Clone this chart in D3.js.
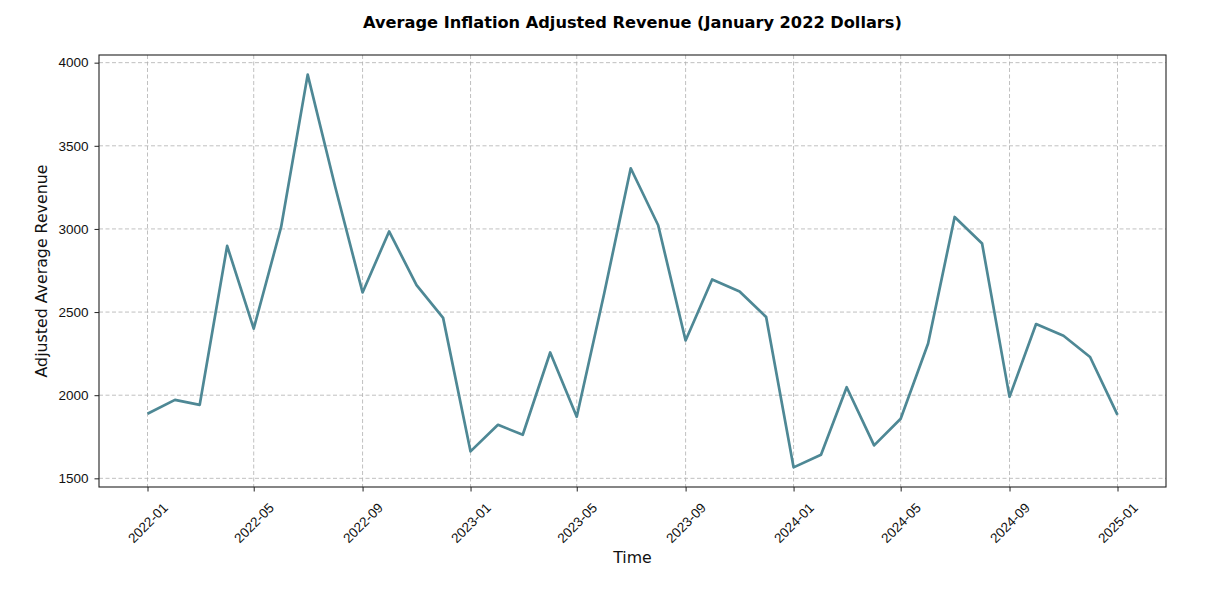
<!DOCTYPE html>
<html>
<head>
<meta charset="utf-8">
<script src="https://cdn.jsdelivr.net/npm/d3@7"></script>
<style>
  body { margin: 0; background: #fff; }
  svg { font-family: "DejaVu Sans", sans-serif; }
</style>
</head>
<body>
<svg width="1206" height="596"></svg>
<script>
var months = ["2022-01","2022-02","2022-03","2022-04","2022-05","2022-06","2022-07","2022-08","2022-09","2022-10","2022-11","2022-12",
  "2023-01","2023-02","2023-03","2023-04","2023-05","2023-06","2023-07","2023-08","2023-09","2023-10","2023-11","2023-12",
  "2024-01","2024-02","2024-03","2024-04","2024-05","2024-06","2024-07","2024-08","2024-09","2024-10","2024-11","2024-12",
  "2025-01"];
var revenue = [1888, 1972, 1942, 2898, 2400, 3012, 3928, 3255, 2618, 2985, 2662, 2465,
  1662, 1822, 1762, 2257, 1870, 2612, 3365, 3022, 2329, 2696, 2624, 2470,
  1566, 1642, 2048, 1698, 1858, 2311, 3072, 2912, 1990, 2428, 2358, 2230,
  1882];
var yTicks = [1500, 2000, 2500, 3000, 3500, 4000];
var xTickLabels = ["2022-01","2022-05","2022-09","2023-01","2023-05","2023-09","2024-01","2024-05","2024-09","2025-01"];

var svg = d3.select("svg"),
    margin = {top: 55, right: 40, bottom: 109, left: 99},
    width = +svg.attr("width") - margin.left - margin.right,
    height = +svg.attr("height") - margin.top - margin.bottom,
    g = svg.append("g").attr("transform", "translate(" + margin.left + "," + margin.top + ")");

var parse = d3.timeParse("%Y-%m");
var data = months.map(function(m, i) { return {date: parse(m), value: revenue[i]}; });

// matplotlib-style 5% padding
var tExt = d3.extent(data, function(d) { return +d.date; });
var tPad = (tExt[1] - tExt[0]) * 0.05;
var x = d3.scaleTime()
    .domain([new Date(tExt[0] - tPad), new Date(tExt[1] + tPad)])
    .range([0, width]);

var vExt = d3.extent(revenue);
var vPad = (vExt[1] - vExt[0]) * 0.05;
var y = d3.scaleLinear()
    .domain([vExt[0] - vPad, vExt[1] + vPad])
    .range([height, 0]);

var xTicks = xTickLabels.map(parse);

// grid
g.append("g").selectAll("line")
  .data(xTicks)
  .enter().append("line")
    .attr("x1", function(d) { return x(d); })
    .attr("x2", function(d) { return x(d); })
    .attr("y1", 0).attr("y2", height)
    .attr("stroke", "#b0b0b0").attr("stroke-opacity", 0.8)
    .attr("stroke-width", 1).attr("stroke-dasharray", "4,2.5");

g.append("g").selectAll("line")
  .data(yTicks)
  .enter().append("line")
    .attr("y1", function(d) { return y(d); })
    .attr("y2", function(d) { return y(d); })
    .attr("x1", 0).attr("x2", width)
    .attr("stroke", "#b0b0b0").attr("stroke-opacity", 0.8)
    .attr("stroke-width", 1).attr("stroke-dasharray", "4,2.5");

// line
var line = d3.line()
    .x(function(d) { return x(d.date); })
    .y(function(d) { return y(d.value); });

g.append("path")
    .datum(data)
    .attr("fill", "none")
    .attr("stroke", "#4e8895")
    .attr("stroke-width", 2.7)
    .attr("stroke-linejoin", "round")
    .attr("d", line);

// frame
g.append("rect")
    .attr("width", width).attr("height", height)
    .attr("fill", "none").attr("stroke", "#222").attr("stroke-width", 1.1);

// x axis
var xAxis = g.append("g")
    .attr("transform", "translate(0," + height + ")")
    .call(d3.axisBottom(x).tickValues(xTicks).tickFormat(d3.timeFormat("%Y-%m")).tickSize(4.5).tickPadding(0));
xAxis.select(".domain").remove();
xAxis.selectAll("line").attr("stroke", "#222");
xAxis.selectAll("text")
    .attr("font-size", 13.5).attr("fill", "#111")
    .attr("y", 0).attr("dy", null)
    .attr("text-anchor", "middle")
    .attr("dominant-baseline", "central")
    .attr("transform", "translate(0,36) rotate(-45)");

// y axis
var yAxis = g.append("g")
    .call(d3.axisLeft(y).tickValues(yTicks).tickFormat(d3.format("d")).tickSize(4.5).tickPadding(6));
yAxis.select(".domain").remove();
yAxis.selectAll("line").attr("stroke", "#222");
yAxis.selectAll("text").attr("font-size", 13.5).attr("fill", "#111");

// labels
svg.append("text")
    .attr("x", margin.left + width / 2).attr("y", 28)
    .attr("text-anchor", "middle")
    .attr("font-size", 16.2).attr("font-weight", "bold")
    .text("Average Inflation Adjusted Revenue (January 2022 Dollars)");

svg.append("text")
    .attr("x", margin.left + width / 2).attr("y", 563)
    .attr("text-anchor", "middle")
    .attr("font-size", 15.8).attr("fill", "#111")
    .text("Time");

svg.append("text")
    .attr("transform", "translate(47," + (margin.top + height / 2) + ") rotate(-90)")
    .attr("text-anchor", "middle")
    .attr("font-size", 15.8).attr("fill", "#111")
    .text("Adjusted Average Revenue");
</script>
</body>
</html>
